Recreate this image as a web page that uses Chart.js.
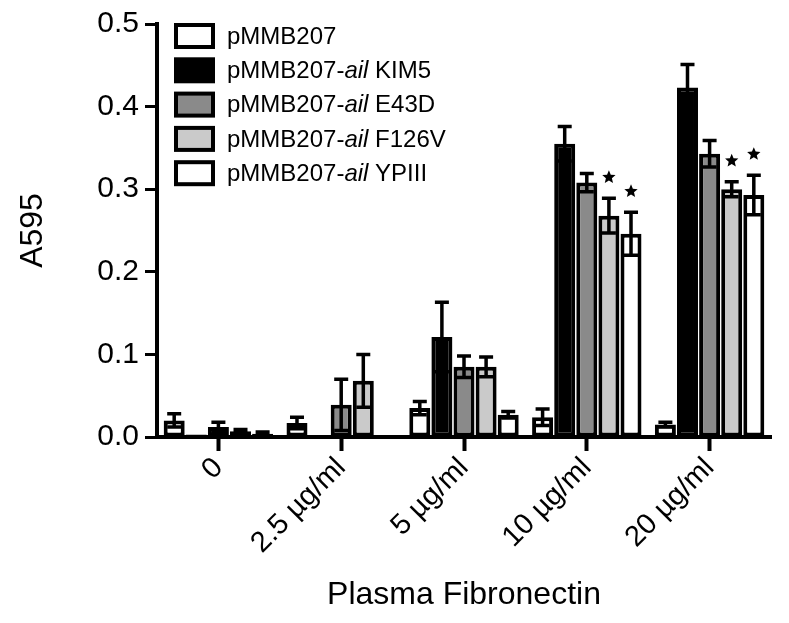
<!DOCTYPE html>
<html>
<head>
<meta charset="utf-8">
<script src="https://cdn.jsdelivr.net/npm/chart.js@4/dist/chart.umd.min.js"></script>
<style>
  body { margin: 0; background: #fff; }
  #wrap { width: 789px; height: 623px; }
</style>
</head>
<body>
<div id="wrap"><canvas id="chart" width="789" height="623"></canvas></div>
<script>
// data
const categories = ["0", "2.5 \u00b5g/ml", "5 \u00b5g/ml", "10 \u00b5g/ml", "20 \u00b5g/ml"];
const seriesNames = [
  ["pMMB207", "", ""],
  ["pMMB207-", "ail", " KIM5"],
  ["pMMB207-", "ail", " E43D"],
  ["pMMB207-", "ail", " F126V"],
  ["pMMB207-", "ail", " YPIII"]
];
const vecValues   = [0.020, 0.017, 0.035, 0.024, 0.015];
const kim5Values  = [0.003, 0.002, 0.121, 0.355, 0.423];
const e43dValues  = [0.012, 0.039, 0.085, 0.308, 0.343];
const f126vValues = [0.007, 0.068, 0.085, 0.268, 0.300];
const ypiiiValues = [0.004, 0.002, 0.027, 0.246, 0.293];

const vecErr   = [0.008, 0.007, 0.008, 0.010, 0.003];
const kim5Err  = [0.000, 0.000, 0.042, 0.021, 0.028];
const e43dErr  = [0.006, 0.031, 0.013, 0.011, 0.016];
const f126vErr = [0.002, 0.032, 0.012, 0.021, 0.009];
const ypiiiErr = [0.002, 0.000, 0.004, 0.026, 0.024];

// significance stars (series index, category index)
const stars = [[3, 3], [4, 3], [3, 4], [4, 4]];

const yTicks = [0, 0.1, 0.2, 0.3, 0.4, 0.5];

const fills = ["#ffffff", "#000000", "#8a8a8a", "#cacaca", "#ffffff"];
const allValues = [vecValues, kim5Values, e43dValues, f126vValues, ypiiiValues];
const allErr = [vecErr, kim5Err, e43dErr, f126vErr, ypiiiErr];

const FONT = "'Liberation Sans', Arial, Helvetica, sans-serif";

// error bars, stars and the legend (needs italic "ail")
const extras = {
  id: "extras",
  afterDatasetsDraw(chart) {
    const ctx = chart.ctx;
    const y = chart.scales.y;
    ctx.save();
    ctx.strokeStyle = "#000";
    ctx.lineWidth = 3.5;
    chart.data.datasets.forEach((ds, i) => {
      const meta = chart.getDatasetMeta(i);
      meta.data.forEach((bar, j) => {
        const e = allErr[i][j];
        if (!e) return;
        const v = ds.data[j];
        const yTop = y.getPixelForValue(v + e);
        const yBot = y.getPixelForValue(Math.max(v - e, 0));
        ctx.beginPath();
        ctx.moveTo(bar.x, yTop);
        ctx.lineTo(bar.x, yBot);
        ctx.moveTo(bar.x - 7, yTop);
        ctx.lineTo(bar.x + 7, yTop);
        ctx.moveTo(bar.x - 7, yBot);
        ctx.lineTo(bar.x + 7, yBot);
        ctx.stroke();
      });
    });

    // stars
    ctx.fillStyle = "#000";
    stars.forEach(([i, j]) => {
      const bar = chart.getDatasetMeta(i).data[j];
      const top = y.getPixelForValue(allValues[i][j] + allErr[i][j]);
      drawStar(ctx, bar.x, top - 21, 7);
    });

    // legend
    const boxX = 176, boxW = 37, boxH = 22, rowGap = 34.3, top0 = 25;
    seriesNames.forEach((parts, i) => {
      const ty = top0 + i * rowGap;
      ctx.fillStyle = fills[i];
      ctx.fillRect(boxX, ty, boxW, boxH);
      ctx.lineWidth = 4;
      ctx.strokeStyle = "#000";
      ctx.strokeRect(boxX, ty, boxW, boxH);
      let tx = 227;
      ctx.fillStyle = "#000";
      ctx.textBaseline = "middle";
      ctx.textAlign = "left";
      parts.forEach((p, k) => {
        if (!p) return;
        ctx.font = (k === 1 ? "italic " : "") + "24px " + FONT;
        ctx.fillText(p, tx, ty + boxH / 2 + 1);
        tx += ctx.measureText(p).width;
      });
    });
    ctx.restore();
  }
};

function drawStar(ctx, cx, cy, r) {
  ctx.beginPath();
  for (let k = 0; k < 10; k++) {
    const rad = k % 2 === 0 ? r : r * 0.45;
    const a = -Math.PI / 2 + k * Math.PI / 5;
    const px = cx + rad * Math.cos(a);
    const py = cy + rad * Math.sin(a);
    if (k === 0) ctx.moveTo(px, py); else ctx.lineTo(px, py);
  }
  ctx.closePath();
  ctx.fill();
}

new Chart(document.getElementById("chart"), {
  type: "bar",
  data: {
    labels: categories,
    datasets: allValues.map((vals, i) => ({
      label: seriesNames[i].join(""),
      data: vals,
      backgroundColor: fills[i],
      borderColor: "#000",
      borderWidth: 4,
      borderSkipped: false,
      barPercentage: 0.95,
      categoryPercentage: 0.9
    }))
  },
  options: {
    responsive: false,
    animation: false,
    layout: { padding: { top: 23, right: 18, left: 0, bottom: 0 } },
    plugins: {
      legend: { display: false },
      tooltip: { enabled: false }
    },
    scales: {
      x: {
        afterFit(scale) { scale.height = 186; },
        grid: {
          display: true,
          drawOnChartArea: false,
          offset: false,
          tickLength: 14,
          tickWidth: 4,
          tickColor: "#000"
        },
        border: { display: true, color: "#000", width: 4 },
        ticks: {
          color: "#000",
          font: { family: FONT, size: 29 },
          minRotation: 45,
          maxRotation: 45,
          padding: 0
        },
        title: {
          display: true,
          text: "Plasma Fibronectin",
          color: "#000",
          font: { family: FONT, size: 32 },
          padding: { top: 0, bottom: 9 }
        }
      },
      y: {
        min: 0,
        max: 0.5,
        afterFit(scale) { scale.width = 157; },
        afterBuildTicks(scale) { scale.ticks = yTicks.map(v => ({ value: v })); },
        grid: {
          display: true,
          drawOnChartArea: false,
          tickLength: 12,
          tickWidth: 3,
          tickColor: "#000"
        },
        border: { display: true, color: "#000", width: 4 },
        ticks: {
          color: "#000",
          font: { family: FONT, size: 30 },
          padding: 6,
          callback: v => Number(v).toFixed(1)
        },
        title: {
          display: true,
          text: "A595",
          color: "#000",
          font: { family: FONT, size: 32 },
          padding: { top: 14, bottom: 0 }
        }
      }
    }
  },
  plugins: [extras]
});
</script>
</body>
</html>
